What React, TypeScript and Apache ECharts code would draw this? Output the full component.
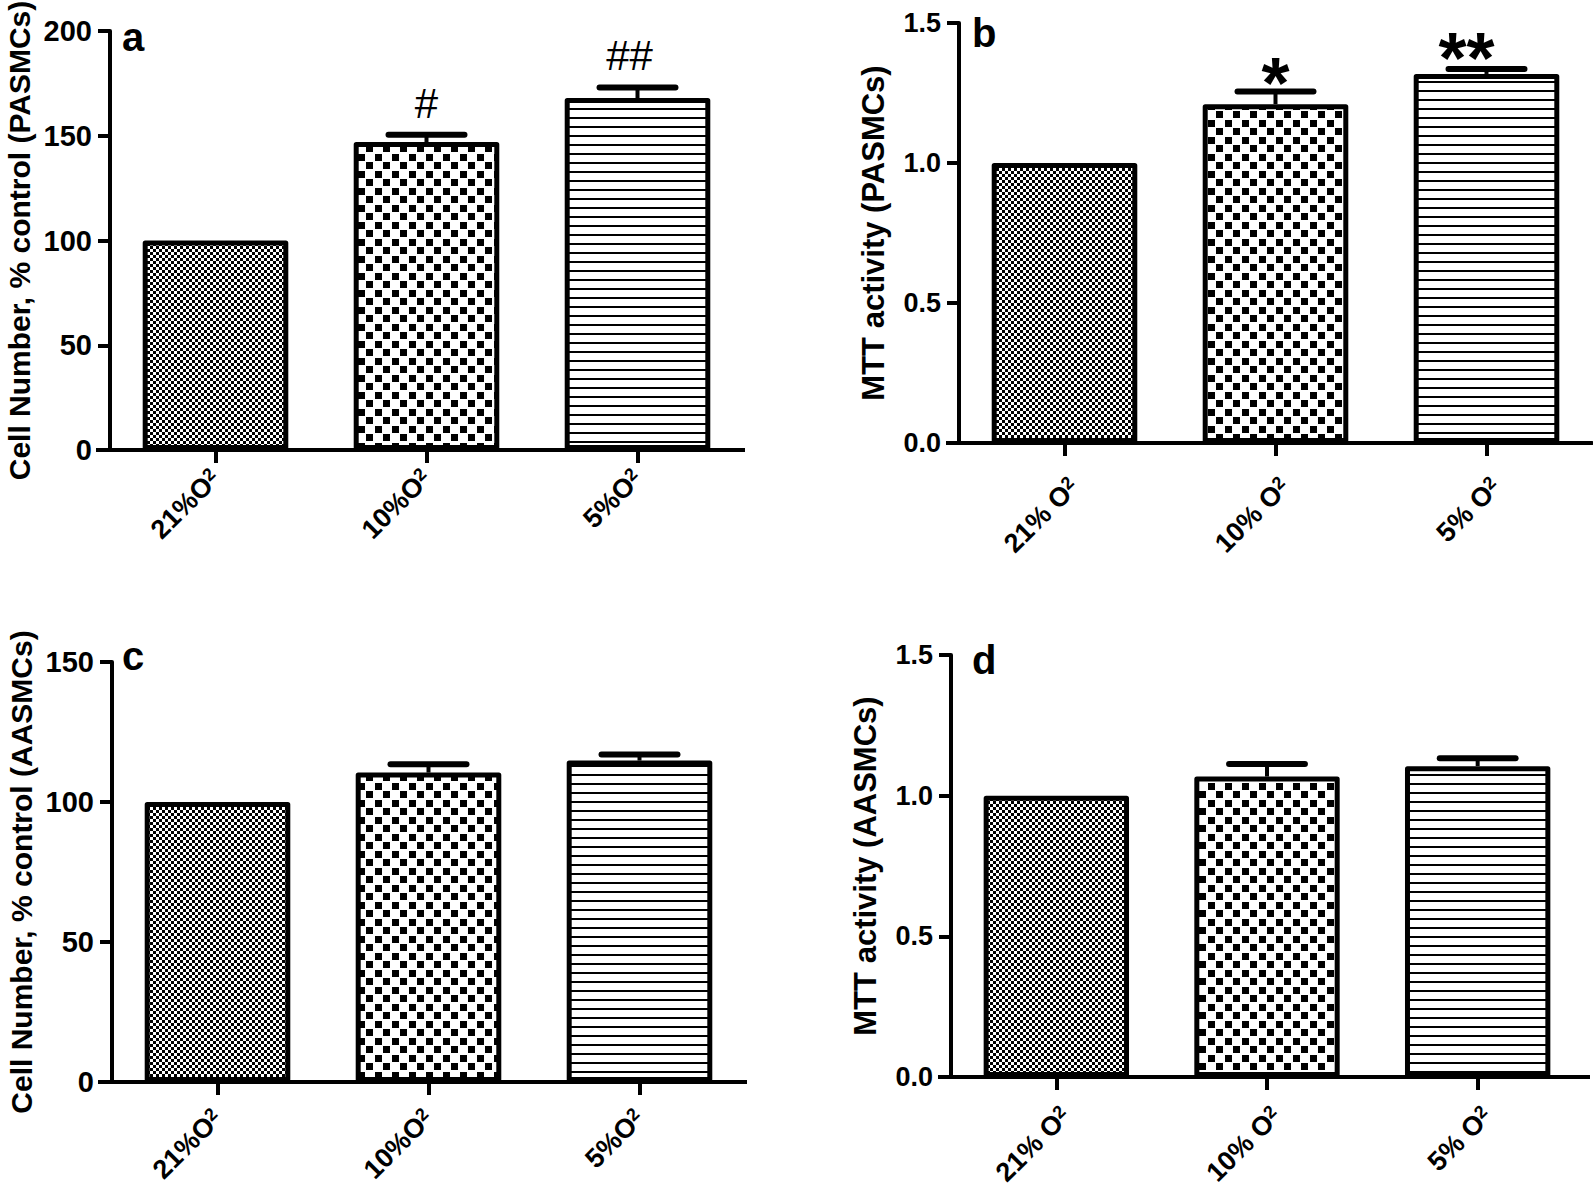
import React, { useEffect, useRef } from 'react';
import * as echarts from 'echarts';

// ---------- data ----------
const catsAC = ['21%O2', '10%O2', '5%O2'];
const catsBD = ['21% O2', '10% O2', '5% O2'];

const aMean = [100, 147, 168];
const aErr = [0, 3.5, 5];
const aMarks = ['', '#', '##'];

const bMean = [1.0, 1.21, 1.318];
const bErr = [0, 0.045, 0.018];
const bMarks = ['', '*', '**'];

const cMean = [100, 110.5, 114.8];
const cErr = [0, 3, 2.2];
const cMarks = ['', '', ''];

const dMean = [1.0, 1.068, 1.105];
const dErr = [0, 0.045, 0.028];
const dMarks = ['', '', ''];

const aAxis = { max: 200, interval: 50, digits: 0 };
const bAxis = { max: 1.5, interval: 0.5, digits: 1 };
const cAxis = { max: 150, interval: 50, digits: 0 };
const dAxis = { max: 1.5, interval: 0.5, digits: 1 };

const titleA = 'Cell Number, % control (PASMCs)';
const titleB = 'MTT activity (PASMCs)';
const titleC = 'Cell Number, % control (AASMCs)';
const titleD = 'MTT activity (AASMCs)';
const letters = ['a', 'b', 'c', 'd'];

// ---------- layout ----------
const GRIDS = [
  { left: 110, top: 31, width: 633, height: 419, extL: 14, extR: 2, labelMargin: 24, labelVA: 'middle', nameGap: 76, nameSize: 30, tickSize: 29 },
  { left: 959, top: 23, width: 633, height: 420, extL: 13, extR: 0, labelMargin: 30, labelVA: 'top', nameGap: 70, nameSize: 31, tickSize: 27 },
  { left: 112, top: 662, width: 633, height: 420, extL: 14, extR: 2, labelMargin: 32, labelVA: 'middle', nameGap: 76, nameSize: 30, tickSize: 29 },
  { left: 951, top: 655, width: 632, height: 422, extL: 13, extR: 7, labelMargin: 25, labelVA: 'top', nameGap: 70, nameSize: 31, tickSize: 27 },
];
const LETTER_POS = [
  [122, 37],
  [972, 33],
  [122, 656],
  [972, 660],
];

const SANS = '"Liberation Sans", Arial, Helvetica, sans-serif';
const NARROW = '"Liberation Sans Narrow", "Liberation Sans", Arial, sans-serif';

const tile = (w: number, h: number, body: string) =>
  'data:image/svg+xml;charset=utf-8,' +
  encodeURIComponent(
    `<svg xmlns='http://www.w3.org/2000/svg' width='${w}' height='${h}' shape-rendering='crispEdges'>${body}</svg>`
  );

const finePattern = {
  image: tile(6, 6, "<rect width='6' height='6' fill='#fff'/><rect width='3' height='3' fill='#000'/><rect x='3' y='3' width='3' height='3' fill='#000'/>"),
  repeat: 'repeat',
  imageWidth: 6,
  imageHeight: 6,
};
const checkPattern = {
  image: tile(17, 17, "<rect width='17' height='17' fill='#fff'/><rect x='1' y='1' width='7' height='7' fill='#000'/><rect x='9' y='9' width='7' height='7' fill='#000'/>"),
  repeat: 'repeat',
  imageWidth: 17,
  imageHeight: 17,
};
const linePattern = {
  image: tile(4, 9, "<rect width='4' height='9' fill='#fff'/><rect y='0' width='4' height='2' fill='#000'/>"),
  repeat: 'repeat',
  imageWidth: 4,
  imageHeight: 9,
};
const PATTERNS = [finePattern, checkPattern, linePattern];

function labelFmt(v: string) {
  return v.slice(0, -1) + '{s|' + v.slice(-1) + '}';
}

type MarkStyle = { fontSize: number; fontWeight: string; dy: Record<string, number>; dx: Record<string, number> };

function makePanel(
  gi: number,
  cats: string[],
  means: number[],
  errs: number[],
  marks: string[],
  axis: { max: number; interval: number; digits: number },
  title: string,
  markStyle: MarkStyle
) {
  const g = GRIDS[gi];
  const xAxis = {
    type: 'category',
    gridIndex: gi,
    data: cats,
    axisLine: { show: true, lineStyle: { color: '#000', width: 4 } },
    axisTick: { show: true, alignWithLabel: true, length: 13, lineStyle: { color: '#000', width: 4 } },
    axisLabel: {
      interval: 0,
      rotate: 45,
      margin: g.labelMargin,
      verticalAlign: g.labelVA,
      color: '#000',
      fontFamily: SANS,
      fontWeight: 'bold',
      fontSize: 27,
      formatter: labelFmt,
      rich: {
        s: { fontSize: 18, fontFamily: SANS, fontWeight: 'bold', color: '#000', verticalAlign: 'top' },
      },
    },
    splitLine: { show: false },
  };
  const yAxis = {
    type: 'value',
    gridIndex: gi,
    min: 0,
    max: axis.max,
    interval: axis.interval,
    axisLine: { show: true, lineStyle: { color: '#000', width: 4 } },
    axisTick: { show: true, length: 12, lineStyle: { color: '#000', width: 4 } },
    splitLine: { show: false },
    axisLabel: {
      margin: 18,
      color: '#000',
      fontFamily: NARROW,
      fontWeight: 'bold',
      fontSize: g.tickSize,
      formatter: (v: number) => v.toFixed(axis.digits),
    },
    name: title,
    nameLocation: 'middle',
    nameGap: g.nameGap,
    nameTextStyle: { color: '#000', fontFamily: SANS, fontWeight: 'bold', fontSize: g.nameSize },
  };
  const bar = {
    type: 'bar',
    xAxisIndex: gi,
    yAxisIndex: gi,
    barWidth: '69%',
    z: 3,
    itemStyle: { borderColor: '#000', borderWidth: 5, borderJoin: 'round' },
    data: means.map((v, i) => ({ value: v, itemStyle: { color: PATTERNS[i] } })),
  };
  const err = {
    type: 'custom',
    xAxisIndex: gi,
    yAxisIndex: gi,
    z: 2,
    data: means.map((m, i) => [i, m, errs[i]]),
    renderItem: (params: any, api: any) => {
      const i = api.value(0);
      const m = api.value(1);
      const e = api.value(2);
      const base = api.coord([i, m]);
      const top = api.coord([i, m + e]);
      const band = api.size([1, 0])[0];
      const half = band * 0.18;
      const children: any[] = [];
      if (e > 0) {
        children.push({
          type: 'line',
          shape: { x1: base[0], y1: base[1], x2: top[0], y2: top[1] },
          style: { stroke: '#000', lineWidth: 4 },
        });
        children.push({
          type: 'line',
          shape: { x1: top[0] - half, y1: top[1], x2: top[0] + half, y2: top[1] },
          style: { stroke: '#000', lineWidth: 6, lineCap: 'round' },
        });
      }
      const mk = marks[params.dataIndex];
      if (mk) {
        children.push({
          type: 'text',
          x: top[0] + (markStyle.dx[mk] || 0),
          y: top[1] + (markStyle.dy[mk] || 0),
          style: {
            text: mk,
            fill: '#000',
            fontFamily: SANS,
            fontWeight: markStyle.fontWeight,
            fontSize: markStyle.fontSize,
            align: 'center',
            verticalAlign: 'middle',
          },
        });
      }
      return { type: 'group', children };
    },
  };
  return { xAxis, yAxis, series: [err, bar] };
}

export default function App() {
  const ref = useRef<HTMLDivElement>(null);
  useEffect(() => {
    if (!ref.current) return;
    const chart = echarts.init(ref.current, undefined, { renderer: 'svg' });
    const hashStyle: MarkStyle = { fontSize: 42, fontWeight: 'normal', dy: { '#': -31, '##': -32 }, dx: { '##': -8 } };
    const starStyle: MarkStyle = { fontSize: 72, fontWeight: 'bold', dy: { '*': -9, '**': -11 }, dx: { '**': -20 } };
    const none: MarkStyle = { fontSize: 20, fontWeight: 'normal', dy: {}, dx: {} };
    const panels = [
      makePanel(0, catsAC, aMean, aErr, aMarks, aAxis, titleA, hashStyle),
      makePanel(1, catsBD, bMean, bErr, bMarks, bAxis, titleB, starStyle),
      makePanel(2, catsAC, cMean, cErr, cMarks, cAxis, titleC, none),
      makePanel(3, catsBD, dMean, dErr, dMarks, dAxis, titleD, none),
    ];
    const graphic: any[] = [];
    GRIDS.forEach((g, i) => {
      const y0 = g.top + g.height;
      graphic.push({
        type: 'line',
        shape: { x1: g.left - g.extL, y1: y0, x2: g.left + g.width + g.extR, y2: y0 },
        style: { stroke: '#000', lineWidth: 4 },
        z: 0,
      });
      graphic.push({
        type: 'text',
        x: LETTER_POS[i][0],
        y: LETTER_POS[i][1],
        style: {
          text: letters[i],
          fill: '#000',
          fontFamily: SANS,
          fontWeight: 'bold',
          fontSize: 40,
          align: 'left',
          verticalAlign: 'middle',
        },
      });
    });
    chart.setOption({
      animation: false,
      backgroundColor: '#fff',
      grid: GRIDS.map((g) => ({
        left: g.left,
        top: g.top,
        width: g.width,
        height: g.height,
        containLabel: false,
        outerBoundsMode: 'none',
      })),
      xAxis: panels.map((p) => p.xAxis),
      yAxis: panels.map((p) => p.yAxis),
      series: panels.flatMap((p) => p.series),
      graphic,
    });
    return () => chart.dispose();
  }, []);
  return <div ref={ref} style={{ position: 'absolute', left: 0, top: 0, width: 1593, height: 1190 }} />;
}
